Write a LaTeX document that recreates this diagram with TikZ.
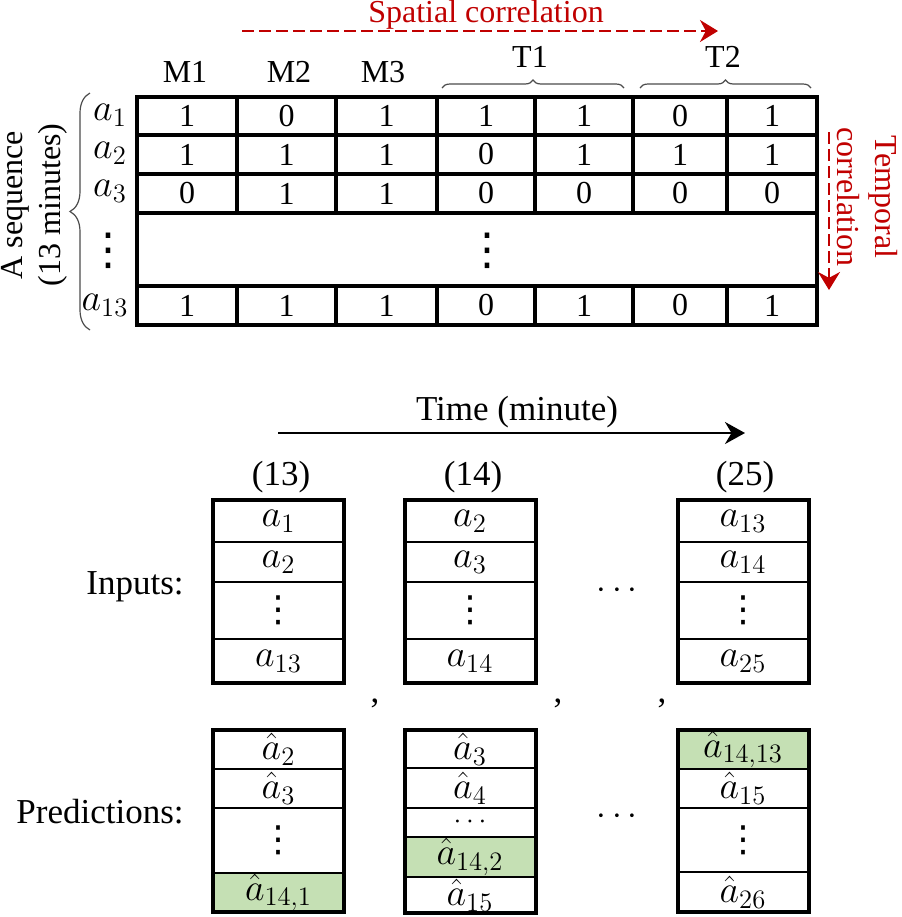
\RequirePackage{fix-cm}
\documentclass[tikz,border=0pt]{standalone}
\usepackage{fontspec}
\setmainfont{Liberation Serif}
\newfontfamily\dotsfont{DejaVu Sans}
\usetikzlibrary{arrows.meta}
\usetikzlibrary{decorations.pathreplacing}

\definecolor{corrred}{HTML}{C00000}
\definecolor{predgreen}{HTML}{C5E0B4}

% vertical ellipsis as one glyph, sized by hand
\newcommand{\colvdots}[1]{{\dotsfont\fontsize{#1}{#1}\selectfont ⋮}}

\tikzset{
  toptext/.style={font=\fontsize{16}{19}\selectfont},
  bottext/.style={font=\fontsize{17.5}{21}\selectfont},
  mathtext/.style={font=\fontsize{19}{22}\selectfont},
  tablerule/.style={line width=1.8pt},
  boxframe/.style={line width=2pt},
  seqcell/.style={draw, line width=0.85pt, minimum width=65.5pt,
    minimum height=#1, inner sep=0pt, outer sep=0pt, mathtext},
  corr/.style={corrred, dash pattern=on 6pt off 2.5pt, line width=1pt,
    -{Stealth[length=9pt, width=11pt]}},
  tbrace/.style={decorate, decoration={brace, amplitude=4pt},
    line width=0.6pt, gray!60!black},
}

\begin{document}
\begin{tikzpicture}[x=0.5pt, y=-0.5pt]
\useasboundingbox (0,0) rectangle (901,917);
\def\colx{{187,286.5,386.5,486,584,680,772}}

% the sequence table
\foreach \yy in {135,174,213,286}
  \draw[tablerule] (137,\yy) -- (817,\yy);
\foreach \xx in {237,336,437,535,633,727} {
  \draw[tablerule] (\xx,97) -- (\xx,213);
  \draw[tablerule] (\xx,286) -- (\xx,325);
}
\draw[boxframe] (137,97) rectangle (817,325);

\foreach \yy/\vals [count=\ri] in {116/{1,0,1,1,1,0,1}, 154.5/{1,1,1,0,1,1,1},
    193.5/{0,1,1,0,0,0,0}, 305.5/{1,1,1,0,1,0,1}}
  \foreach \v [count=\ci] in \vals {
    \pgfmathsetmacro{\cx}{\colx[\ci-1]}
    \node[toptext] (v\ri\ci) at (\cx,\yy) {\v};
  }
\node (mdots) at (487,251) {\colvdots{22}};

\node[toptext] (m1) at (185,72) {M1};
\node[toptext] (m2) at (289,72) {M2};
\node[toptext] (m3) at (383,72) {M3};
\node[toptext] (t1) at (530,57) {T1};
\node[toptext] (t2) at (723,57) {T2};
\draw[tbrace] (442,88) -- (624,88);
\draw[tbrace] (640,88) -- (811,88);

\coordinate (sp0) at (242,31);
\coordinate (sp1) at (718,31);
\draw[corr] (sp0) -- (sp1);
\node[toptext, text=corrred, inner sep=0pt] (spatial) at (486,15) {Spatial correlation};

\node[mathtext] (a1) at (110,115) {$a_1$};
\node[mathtext] (a2) at (110,153) {$a_2$};
\node[mathtext] (a3) at (110,191) {$a_3$};
\node (ldots) at (108,251) {\colvdots{22}};
\node[mathtext] (a13) at (105,305) {$a_{13}$};
\draw[decorate, decoration={brace, amplitude=10pt}, line width=0.6pt, gray!60!black]
  (90,330) -- (90,93);
\node[toptext, rotate=90, align=center] (seq) at (34,205) {A sequence\\(13 minutes)};

\coordinate (tp0) at (829,132);
\coordinate (tp1) at (829,290);
\draw[corr] (tp0) -- (tp1);
\node[toptext, text=corrred, rotate=-90, align=center] (temporal) at (867,197)
  {Temporal\\correlation};

% time axis
\coordinate (tm0) at (278,433);
\coordinate (tm1) at (745,433);
\draw[line width=1pt, -{Stealth[length=10pt, width=11pt]}] (tm0) -- (tm1);
\node[bottext] (time) at (517,412) {Time (minute)};

\node[bottext] (h13) at (281,477) {(13)};
\node[bottext] (h14) at (473,477) {(14)};
\node[bottext] (h25) at (745,477) {(25)};

% inputs
\node[bottext] (inputs) at (135,587) {Inputs:};
\foreach \bx/\nm/\la/\lb/\ld in {278.5/i1/1/2/13, 470/i2/2/3/14, 743/i3/13/14/25} {
  \node[seqcell=21pt] (\nm a) at (\bx,521) {$a_{\la}$};
  \node[seqcell=20pt] (\nm b) at (\bx,562) {$a_{\lb}$};
  \node[seqcell=28.5pt] (\nm c) at (\bx,610.5) {\colvdots{18}};
  \node[seqcell=22pt] (\nm d) at (\bx,661) {$a_{\ld}$};
  \draw[boxframe] (\nm a.north west) rectangle (\nm d.south east);
}
\node[bottext] (gap1) at (617,591) {$\cdots$};

\node[bottext] (comma1) at (375,703) {,};
\node[bottext] (comma2) at (558,703) {,};
\node[bottext] (comma3) at (662,703) {,};

% predictions
\node[bottext] (preds) at (100,812) {Predictions:};

\node[seqcell=19.5pt] (p1a) at (278.5,749.5) {$\hat{a}_2$};
\node[seqcell=19.5pt] (p1b) at (278.5,788.5) {$\hat{a}_3$};
\node[seqcell=32.5pt] (p1c) at (278.5,840.5) {\colvdots{18}};
\node[seqcell=19.5pt, fill=predgreen] (p1d) at (278.5,892.5) {$\hat{a}_{14,1}$};
\draw[boxframe] (p1a.north west) rectangle (p1d.south east);

\node[seqcell=19pt] (p2a) at (470,749) {$\hat{a}_3$};
\node[seqcell=20pt] (p2b) at (470,788) {\raisebox{2pt}{$\hat{a}_4$}};
\node[seqcell=14.5pt, font=\fontsize{14}{14}\selectfont] (p2c) at (470,822.5)
  {\raisebox{-2pt}{$\cdots$}};
\node[seqcell=20pt, fill=predgreen] (p2d) at (470,857) {$\hat{a}_{14,2}$};
\node[seqcell=18pt] (p2e) at (470,895) {$\hat{a}_{15}$};
\draw[boxframe] (p2a.north west) rectangle (p2e.south east);

\node[seqcell=19.5pt, fill=predgreen] (p3a) at (743,749.5) {$\hat{a}_{14,13}$};
\node[seqcell=19.5pt] (p3b) at (743,788.5) {$\hat{a}_{15}$};
\node[seqcell=32pt] (p3c) at (743,840) {\colvdots{18}};
\node[seqcell=20pt] (p3d) at (743,892) {$\hat{a}_{26}$};
\draw[boxframe] (p3a.north west) rectangle (p3d.south east);

\node[bottext] (gap2) at (617,817) {$\cdots$};
\end{tikzpicture}
\end{document}
